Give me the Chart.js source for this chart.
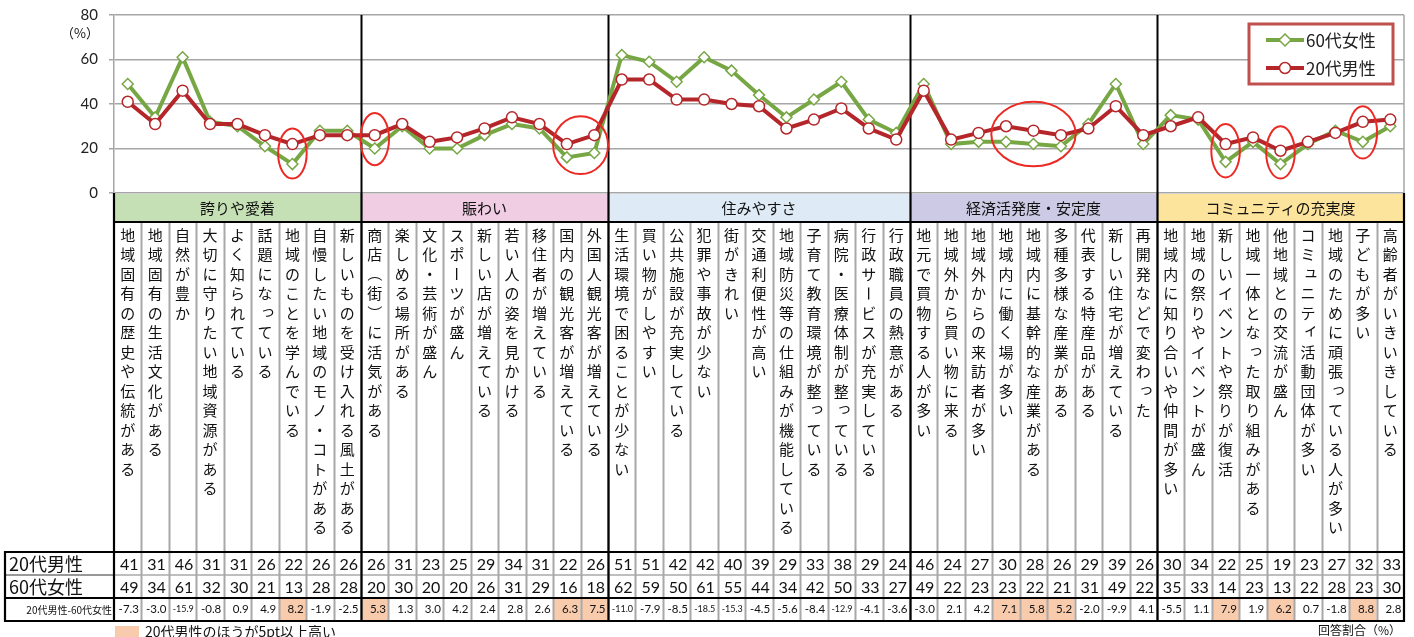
<!DOCTYPE html>
<html><head><meta charset="utf-8">
<script src="https://cdn.jsdelivr.net/npm/chart.js@4.4.1/dist/chart.umd.min.js"></script>
<style>html,body{margin:0;padding:0;background:#fff;overflow:hidden}canvas{display:block}</style>
</head><body>
<canvas id="c" width="1414" height="637"></canvas>
<script>
// ---------------- data ----------------
const groupNames = ['誇りや愛着', '賑わい', '住みやすさ', '経済活発度・安定度', 'コミュニティの充実度'];
const groupSizes = [9, 9, 11, 9, 9];
const groupColors = ['#c5e0b4', '#f0cde3', '#deebf7', '#cdcae6', '#fde49c'];

const categories = [
  '地域固有の歴史や伝統がある', '地域固有の生活文化がある', '自然が豊か', '大切に守りたい地域資源がある', 'よく知られている',
  '話題になっている', '地域のことを学んでいる', '自慢したい地域のモノ・コトがある', '新しいものを受け入れる風土がある',
  '商店（街）に活気がある', '楽しめる場所がある', '文化・芸術が盛ん', 'スポーツが盛ん', '新しい店が増えている',
  '若い人の姿を見かける', '移住者が増えている', '国内の観光客が増えている', '外国人観光客が増えている',
  '生活環境で困ることが少ない', '買い物がしやすい', '公共施設が充実している', '犯罪や事故が少ない', '街がきれい',
  '交通利便性が高い', '地域防災等の仕組みが機能している', '子育て教育環境が整っている', '病院・医療体制が整っている',
  '行政サービスが充実している', '行政職員の熱意がある',
  '地元で買物する人が多い', '地域外から買い物に来る', '地域外からの来訪者が多い', '地域内に働く場が多い',
  '地域内に基幹的な産業がある', '多種多様な産業がある', '代表する特産品がある', '新しい住宅が増えている', '再開発などで変わった',
  '地域内に知り合いや仲間が多い', '地域の祭りやイベントが盛ん', '新しいイベントや祭りが復活', '地域一体となった取り組みがある',
  '他地域との交流が盛ん', 'コミュニティ活動団体が多い', '地域のために頑張っている人が多い', '子どもが多い', '高齢者がいきいきしている'
];

const male20 = [41, 31, 46, 31, 31, 26, 22, 26, 26,
  26, 31, 23, 25, 29, 34, 31, 22, 26,
  51, 51, 42, 42, 40, 39, 29, 33, 38, 29, 24,
  46, 24, 27, 30, 28, 26, 29, 39, 26,
  30, 34, 22, 25, 19, 23, 27, 32, 33];

const female60 = [49, 34, 61, 32, 30, 21, 13, 28, 28,
  20, 30, 20, 20, 26, 31, 29, 16, 18,
  62, 59, 50, 61, 55, 44, 34, 42, 50, 33, 27,
  49, 22, 23, 23, 22, 21, 31, 49, 22,
  35, 33, 14, 23, 13, 22, 28, 23, 30];

const diffValues = [-7.3, -3.0, -15.9, -0.8, 0.9, 4.9, 8.2, -1.9, -2.5,
  5.3, 1.3, 3.0, 4.2, 2.4, 2.8, 2.6, 6.3, 7.5,
  -11.0, -7.9, -8.5, -18.5, -15.3, -4.5, -5.6, -8.4, -12.9, -4.1, -3.6,
  -3.0, 2.1, 4.2, 7.1, 5.8, 5.2, -2.0, -9.9, 4.1,
  -5.5, 1.1, 7.9, 1.9, 6.2, 0.7, -1.8, 8.8, 2.8];

const yTickValues = [0, 20, 40, 60, 80];
const highlightThreshold = 5;
const seriesNames = ['60代女性', '20代男性'];
const rowLabels = ['20代男性', '60代女性', '20代男性-60代女性'];
const noteText = '20代男性のほうが5pt以上高い';
const unitText = '回答割合（%）';
const yUnitText = '（%）';
// annotation ellipses: category index range and value range
const ellipses = [
  {from: 6, to: 6, lo: 6.5, hi: 29},
  {from: 9, to: 9, lo: 12.5, hi: 36},
  {from: 16, to: 17, lo: 8.5, hi: 34.5},
  {from: 32, to: 34, lo: 12, hi: 41},
  {from: 40, to: 40, lo: 7, hi: 31},
  {from: 42, to: 42, lo: 6.5, hi: 30},
  {from: 45, to: 45, lo: 15.5, hi: 39}
];

// ---------------- style ----------------
const GREEN = '#77a744';
const RED = '#b5262a';
const JP = '"Noto Sans CJK JP", "Noto Sans", sans-serif';
const NUM = 'Lato, "Noto Sans", sans-serif';
Chart.defaults.font.family = JP;

const Y_HEAD_BOT = 222, Y_LABEL_BOT = 552, ROW_H = 23, LABEL_LEFT = 5;

function vText(ctx, text, cx, y0, step, maxY) {
  const rot = 'ー（）－〜';
  const small = 'っゃゅょぁぃぅぇぉッャュョァィゥェォ';
  let y = y0;
  for (const ch of text) {
    if (y > maxY) break;
    ctx.save();
    ctx.translate(cx, y);
    if (rot.includes(ch)) ctx.rotate(Math.PI / 2);
    else if (small.includes(ch)) ctx.translate(3, -3);
    ctx.fillText(ch, 0, 0);
    ctx.restore();
    y += step;
  }
}

const tablePlugin = {
  id: 'tablePlugin',
  beforeDatasetsDraw(chart) {
    const {ctx, chartArea: ca, scales: {x}} = chart;
    const colW = x.getPixelForValue(1) - x.getPixelForValue(0);
    const edge = i => x.getPixelForValue(i) - colW / 2;
    ctx.save();
    ctx.strokeStyle = '#a6a6a6'; ctx.lineWidth = 1.5;
    ctx.beginPath(); ctx.moveTo(ca.right, ca.top); ctx.lineTo(ca.right, ca.bottom); ctx.stroke();
    ctx.strokeStyle = '#000'; ctx.lineWidth = 2;
    let acc = 0;
    for (let g = 0; g < groupSizes.length - 1; g++) {
      acc += groupSizes[g];
      const ex = Math.round(edge(acc)) + 0.5;
      ctx.beginPath(); ctx.moveTo(ex, ca.top); ctx.lineTo(ex, ca.bottom); ctx.stroke();
    }
    ctx.restore();
  },
  afterDraw(chart) {
    const {ctx, chartArea: ca, scales: {x, y}} = chart;
    const n = categories.length;
    const colW = x.getPixelForValue(1) - x.getPixelForValue(0);
    const edge = i => x.getPixelForValue(i) - colW / 2;
    const L = ca.left, R = ca.right;
    const yTop = ca.bottom;
    const r1 = Y_LABEL_BOT, r2 = r1 + ROW_H, r3 = r2 + ROW_H, r4 = r3 + ROW_H;
    ctx.save();

    let acc = 0;
    groupSizes.forEach((s, g) => {
      ctx.fillStyle = groupColors[g];
      ctx.fillRect(edge(acc), yTop + 1, edge(acc + s) - edge(acc), Y_HEAD_BOT - yTop - 1);
      acc += s;
    });
    ctx.fillStyle = '#f8cbad';
    diffValues.forEach((v, i) => {
      if (v >= highlightThreshold) ctx.fillRect(edge(i), r3, colW, ROW_H);
    });

    ctx.strokeStyle = '#a8a8a8'; ctx.lineWidth = 2;
    for (let i = 1; i < n; i++) {
      const ex = Math.round(edge(i)) + 0.5;
      ctx.beginPath(); ctx.moveTo(ex, Y_HEAD_BOT); ctx.lineTo(ex, r4); ctx.stroke();
    }
    ctx.lineWidth = 1.5;
    ctx.beginPath(); ctx.moveTo(L, r2); ctx.lineTo(R, r2); ctx.stroke();
    ctx.strokeStyle = '#333'; ctx.lineWidth = 1;
    ctx.beginPath(); ctx.moveTo(LABEL_LEFT, r2); ctx.lineTo(L, r2); ctx.stroke();

    ctx.strokeStyle = '#000'; ctx.lineWidth = 2.2;
    const hl = (x1, x2, yy) => { ctx.beginPath(); ctx.moveTo(x1, yy); ctx.lineTo(x2, yy); ctx.stroke(); };
    const vl = (xx, y1, y2) => { ctx.beginPath(); ctx.moveTo(xx, y1); ctx.lineTo(xx, y2); ctx.stroke(); };
    hl(L, R, Y_HEAD_BOT);
    hl(LABEL_LEFT, R + 1, r1);
    hl(LABEL_LEFT, R + 1, r3);
    hl(LABEL_LEFT, R + 1, r4);
    vl(L, yTop, r4 + 1);
    vl(R, yTop, r4 + 1);
    vl(LABEL_LEFT, r1 - 1, r4 + 1);
    acc = 0;
    for (let g = 0; g < groupSizes.length - 1; g++) {
      acc += groupSizes[g];
      vl(Math.round(edge(acc)) + 0.5, yTop, r4 + 1);
    }

    ctx.fillStyle = '#111';
    ctx.textAlign = 'center'; ctx.textBaseline = 'middle';
    ctx.font = '15px ' + JP;
    acc = 0;
    groupSizes.forEach((s, g) => {
      ctx.fillText(groupNames[g], (edge(acc) + edge(acc + s)) / 2, (yTop + Y_HEAD_BOT) / 2 + 1);
      acc += s;
    });

    ctx.font = '15px ' + JP;
    categories.forEach((c, i) => {
      vText(ctx, c, x.getPixelForValue(i), 235, 19.5, Y_LABEL_BOT - 8);
    });

    ctx.textAlign = 'left';
    ctx.font = '18px ' + JP;
    ctx.fillText(rowLabels[0], 9, (r1 + r2) / 2 + 1);
    ctx.fillText(rowLabels[1], 9, (r2 + r3) / 2 + 1);
    ctx.textAlign = 'right';
    ctx.font = '10px ' + JP;
    ctx.fillText(rowLabels[2], L - 2, (r3 + r4) / 2 + 1);

    ctx.font = '16px ' + NUM;
    for (let i = 0; i < n; i++) {
      const rx = edge(i + 1) - 3;
      ctx.fillText(String(male20[i]), rx, (r1 + r2) / 2 + 1);
      ctx.fillText(String(female60[i]), rx, (r2 + r3) / 2 + 1);
      const v = diffValues[i];
      ctx.font = (Math.abs(v) >= 10 ? '9px ' : '11.5px ') + NUM;
      ctx.fillText(v.toFixed(1), edge(i + 1) - 2.5, (r3 + r4) / 2);
      ctx.font = '16px ' + NUM;
    }

    ctx.textAlign = 'right';
    ctx.font = '13px ' + JP;
    ctx.fillText(yUnitText, 99, 33);

    ctx.fillStyle = '#f8cbad';
    ctx.fillRect(L + 1, 626, 24, 12);
    ctx.fillStyle = '#111';
    ctx.textAlign = 'left';
    ctx.font = '14px ' + JP;
    ctx.fillText(noteText, L + 31, 632);
    ctx.textAlign = 'right';
    ctx.font = '12px ' + JP;
    ctx.fillText(unitText, R - 3, 630);

    ctx.strokeStyle = '#ec2a24'; ctx.lineWidth = 2;
    ellipses.forEach(e => {
      const x1 = edge(e.from), x2 = edge(e.to + 1);
      const cx = (x1 + x2) / 2;
      const yHi = y.getPixelForValue(e.hi), yLo = y.getPixelForValue(e.lo);
      const cy = (yHi + yLo) / 2;
      let rx = (x2 - x1) / 2, ry = (yLo - yHi) / 2;
      if (e.from === e.to) rx = colW * 0.52;
      else if (e.to - e.from >= 2) rx = (x2 - x1) / 2 + 1;
      ctx.beginPath(); ctx.ellipse(cx, cy, rx, ry, 0, 0, Math.PI * 2); ctx.stroke();
    });

    const lx = 1249, ly = 24, lw = 144, lh = 60;
    ctx.fillStyle = '#fff';
    ctx.fillRect(lx, ly, lw, lh);
    ctx.strokeStyle = '#c0504d'; ctx.lineWidth = 3;
    ctx.strokeRect(lx, ly, lw, lh);
    const items = [{name: seriesNames[0], color: GREEN, style: 'diamond', yy: 40},
                   {name: seriesNames[1], color: RED, style: 'circle', yy: 68}];
    items.forEach(it => {
      ctx.strokeStyle = it.color; ctx.lineWidth = 4;
      ctx.beginPath(); ctx.moveTo(1266, it.yy); ctx.lineTo(1304, it.yy); ctx.stroke();
      ctx.fillStyle = '#fff'; ctx.lineWidth = 1.5;
      ctx.beginPath();
      if (it.style === 'circle') ctx.arc(1285, it.yy, 5.5, 0, Math.PI * 2);
      else { ctx.moveTo(1285, it.yy - 6); ctx.lineTo(1291, it.yy); ctx.lineTo(1285, it.yy + 6); ctx.lineTo(1279, it.yy); ctx.closePath(); }
      ctx.fill(); ctx.stroke();
      ctx.fillStyle = '#222'; ctx.textAlign = 'left';
      ctx.font = '17px ' + JP;
      ctx.fillText(it.name, 1306, it.yy + 1);
    });
    ctx.restore();
  }
};

new Chart(document.getElementById('c'), {
  type: 'line',
  data: {
    labels: categories,
    datasets: [
      {label: seriesNames[1], data: male20, borderColor: RED, borderWidth: 4, pointStyle: 'circle',
       pointRadius: 5.5, pointBackgroundColor: '#fff', pointBorderColor: RED, pointBorderWidth: 1.5, tension: 0},
      {label: seriesNames[0], data: female60, borderColor: GREEN, borderWidth: 4, pointStyle: 'rectRot',
       pointRadius: 5.5, pointBackgroundColor: '#fff', pointBorderColor: GREEN, pointBorderWidth: 1.5, tension: 0}
    ]
  },
  options: {
    responsive: false,
    animation: false,
    layout: {padding: {top: 15, right: 10, bottom: 444, left: 0}},
    plugins: {legend: {display: false}, tooltip: {enabled: false}},
    scales: {
      x: {type: 'category', display: false, offset: true},
      y: {
        min: 0, max: 80,
        afterFit(scale) { scale.width = 114; scale.paddingTop = 0; scale.paddingBottom = 0; },
        afterBuildTicks(scale) { scale.ticks = yTickValues.map(v => ({value: v})); },
        ticks: {color: '#222', font: {size: 15, family: NUM, lineHeight: 0.5}, padding: 11},
        grid: {color: '#a6a6a6', lineWidth: 1.5, tickLength: 5},
        border: {color: '#a6a6a6', width: 1.5}
      }
    }
  },
  plugins: [tablePlugin]
});
</script>
</body></html>
